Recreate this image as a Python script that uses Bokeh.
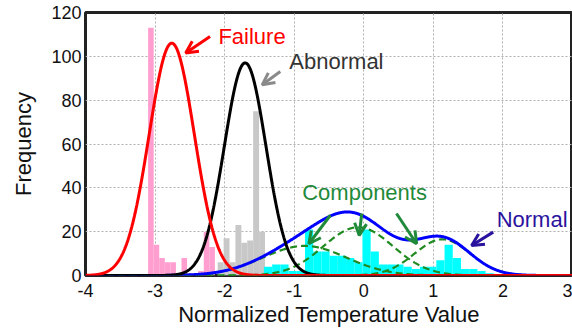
import numpy as np
from bokeh.plotting import figure
from bokeh.models import Range1d, FixedTicker, Label, Arrow, OpenHead
from bokeh.embed import file_html
from bokeh.resources import INLINE

# Histogram bins (centres) and frequencies for each machine state
failure_centers = [-3.06, -2.98, -2.90, -2.82, -2.74, -2.66, -2.58, -2.50, -2.42, -2.34, -2.26, -2.18]
failure_counts = [113, 14, 8, 6, 6, 0, 8, 1, 0, 2, 20, 13]
failure_width = 0.08

abnormal_centers = [-2.0575, -1.9725, -1.8875, -1.8025, -1.7175, -1.6325, -1.5475, -1.4625]
abnormal_counts = [6, 17, 6, 23, 15, 16, 75, 20]
abnormal_width = 0.085

normal_centers = [-1.376, -1.258, -1.140, -1.022, -0.904, -0.786, -0.668, -0.550, -0.432, -0.314,
                  -0.196, -0.078, 0.040, 0.158, 0.276, 0.394, 0.512, 0.630, 0.748, 0.866,
                  0.984, 1.102, 1.220, 1.338, 1.456, 1.574, 1.692, 1.810]
normal_counts = [4, 5, 5, 2, 2, 21, 11, 11, 9, 9, 8, 6, 21, 11, 5, 5, 5, 4, 3, 4, 4, 7, 14, 8, 3, 3, 2, 1]
normal_width = 0.118

# Fitted Gaussian curves: (mean, std, peak height)
failure_fit = (-2.76, 0.325, 106)
abnormal_fit = (-1.705, 0.30, 97)
component_means = [-0.85, -0.08, 1.13]
component_stds = [0.60, 0.50, 0.40]
component_peaks = [13.5, 22, 16.5]

x_ticks = [-4, -3, -2, -1, 0, 1, 2, 3]
y_ticks = [0, 20, 40, 60, 80, 100, 120]

FONT = "Liberation Sans"


def gauss(x, mean, std, peak):
    return peak * np.exp(-0.5 * ((x - mean) / std) ** 2)


xs = np.linspace(-4, 3, 1400)

p = figure(width=572, height=331, output_backend="svg", toolbar_location=None,
           x_range=Range1d(-4, 3), y_range=Range1d(0, 120),
           min_border_left=85, min_border_right=0, min_border_top=12, min_border_bottom=56)
p.background_fill_color = "white"
p.border_fill_color = "white"
p.outline_line_color = "#222222"
p.outline_line_width = 3

# histograms
def hist(centers, counts, width, color):
    c = np.array(centers)
    p.quad(left=c - width / 2, right=c + width / 2, bottom=0, top=counts,
           fill_color=color, line_color=None)

hist(failure_centers, failure_counts, failure_width, "#ff9ecf")
hist(abnormal_centers, abnormal_counts, abnormal_width, "#c8c8c8")
hist(normal_centers, normal_counts, normal_width, "#00ffff")

# mixture components and their sum
comps = [gauss(xs, m, s, a) for m, s, a in zip(component_means, component_stds, component_peaks)]
for c in comps:
    p.line(xs, c, line_color="#1f8a1f", line_width=2.2, line_dash="7 4")
p.line(xs, np.sum(comps, axis=0), line_color="#0000ff", line_width=3)
p.line(xs, gauss(xs, *abnormal_fit), line_color="black", line_width=3)
p.line(xs, gauss(xs, *failure_fit), line_color="#ff0000", line_width=3)

# axes
for ax in (p.xaxis[0], p.yaxis[0]):
    ax.axis_line_color = None
    ax.major_tick_out = 0
    ax.major_tick_in = 0
    ax.minor_tick_line_color = None
    ax.major_label_text_font = FONT
    ax.major_label_text_font_size = "18px"
    ax.major_label_text_color = "#111111"
    ax.axis_label_text_font = FONT
    ax.axis_label_text_font_size = "22px"
    ax.axis_label_text_font_style = "normal"
    ax.axis_label_text_color = "#111111"

p.xaxis.ticker = FixedTicker(ticks=x_ticks)
p.yaxis.ticker = FixedTicker(ticks=y_ticks)
p.xaxis.major_label_overrides = {t: str(t) for t in x_ticks}
p.yaxis.major_label_overrides = {t: str(t) for t in y_ticks}
p.xaxis.axis_label = "Normalized Temperature Value"
p.yaxis.axis_label = "Frequency"
p.xaxis.major_label_standoff = 8
p.xaxis.axis_label_standoff = 2
p.yaxis.major_label_standoff = 4
p.yaxis.axis_label_standoff = 12

p.xgrid.grid_line_color = "#b0b0b0"
p.ygrid.grid_line_color = "#b0b0b0"
p.xgrid.grid_line_dash = "2 2"
p.ygrid.grid_line_dash = "2 2"
p.xgrid.grid_line_width = 1
p.ygrid.grid_line_width = 1

# annotations
def note(x, y, text, color):
    p.add_layout(Label(x=x, y=y, text=text, text_font=FONT, text_font_size="22px",
                       text_color=color, text_baseline="middle", text_align="left"))

def pointer(x0, y0, x1, y1, color):
    p.add_layout(Arrow(end=OpenHead(size=12, line_color=color, line_width=3),
                       x_start=x0, y_start=y0, x_end=x1, y_end=y1,
                       line_color=color, line_width=3))

note(-2.09, 109, "Failure", "#ff0000")
pointer(-2.21, 109, -2.56, 101.5, "#ff0000")

note(-1.07, 97.6, "Abnormal", "#333333")
pointer(-1.20, 93.1, -1.46, 87, "#8a8a8a")

note(-0.885, 38, "Components", "#1f8a3a")
pointer(-0.48, 27.5, -0.79, 14.5, "#1f8a3a")
pointer(-0.03, 28.3, -0.065, 18.3, "#1f8a3a")
pointer(0.47, 28.3, 0.76, 14.5, "#1f8a3a")

note(1.91, 25.6, "Normal", "#2b139e")
pointer(1.86, 19.8, 1.55, 13.7, "#2b139e")

open("out.html", "w").write(file_html(p, INLINE))
